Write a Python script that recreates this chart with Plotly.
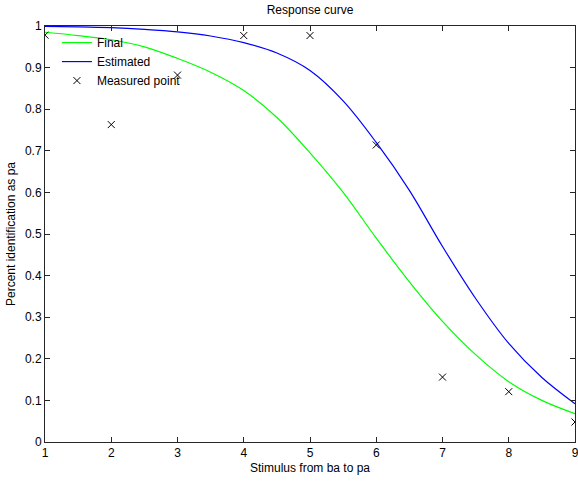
import plotly.graph_objects as go

# Measured points
stimulus = [1, 2, 3, 4, 5, 6, 7, 8, 9]
measured = [0.978, 0.763, 0.882, 0.977, 0.977, 0.714, 0.156, 0.121, 0.048]

# Curves
curve_x = [1, 1.5, 2, 2.5, 3, 3.5, 4, 4.5, 5, 5.5, 6, 6.5, 7, 7.5, 8, 8.5, 9]
final_y = [0.985, 0.977, 0.967, 0.950, 0.922, 0.889, 0.845, 0.78, 0.695, 0.60,
           0.49, 0.385, 0.29, 0.21, 0.145, 0.10, 0.068]
estimated_y = [0.999, 0.998, 0.996, 0.992, 0.986, 0.976, 0.96, 0.935, 0.893, 0.82,
               0.72, 0.605, 0.47, 0.345, 0.237, 0.155, 0.092]

x_ticks = [1, 2, 3, 4, 5, 6, 7, 8, 9]
y_ticks = [0, 0.1, 0.2, 0.3, 0.4, 0.5, 0.6, 0.7, 0.8, 0.9, 1]

FONT = "Liberation Sans, Arial, sans-serif"
AX = "#262626"

fig = go.Figure()
fig.add_trace(go.Scatter(x=curve_x, y=final_y, mode="lines", name="Final",
                         line=dict(color="#00ff00", width=1.2, shape="spline")))
fig.add_trace(go.Scatter(x=curve_x, y=estimated_y, mode="lines", name="Estimated",
                         line=dict(color="#0000ff", width=1.2, shape="spline")))
fig.add_trace(go.Scatter(x=stimulus, y=measured, mode="markers", name="Measured point",
                         marker=dict(symbol="x-thin-open", size=7, color="black",
                                     line=dict(color="black", width=1))))

axis_common = dict(showline=True, linecolor=AX, linewidth=1, mirror="ticks",
                   ticks="inside", ticklen=5, tickcolor=AX, tickwidth=1,
                   showgrid=False, zeroline=False, ticklabeloverflow="allow",
                   automargin=False,
                   tickfont=dict(family=FONT, size=12, color="black"))

fig.update_layout(
    width=578, height=481,
    margin=dict(l=45, r=3, t=26, b=39),
    paper_bgcolor="white", plot_bgcolor="white",
    font=dict(family=FONT, size=12, color="black"),
    title=dict(text="Response curve", x=0.5, xref="paper", xanchor="center",
               y=1 - 10 / 481, yref="container", yanchor="middle",
               font=dict(family=FONT, size=12, color="black")),
    xaxis=dict(range=[1, 9], tickvals=x_ticks, ticktext=[str(v) for v in x_ticks],
               title=dict(text="Stimulus from ba to pa", standoff=4,
                          font=dict(family=FONT, size=12, color="black")),
               **axis_common),
    yaxis=dict(range=[0, 1], tickvals=y_ticks,
               ticktext=["0" if v == 0 else ("1" if v == 1 else f"{v:.1f}") for v in y_ticks],
               title=dict(text="Percent identification as pa", standoff=6,
                          font=dict(family=FONT, size=12, color="black")),
               **axis_common),
    legend=dict(x=0.0225, y=0.995, xanchor="left", yanchor="top",
                bgcolor="rgba(0,0,0,0)", borderwidth=0,
                font=dict(family=FONT, size=12, color="black"),
                tracegroupgap=0),
    showlegend=True,
)

fig.write_html("out.html")
